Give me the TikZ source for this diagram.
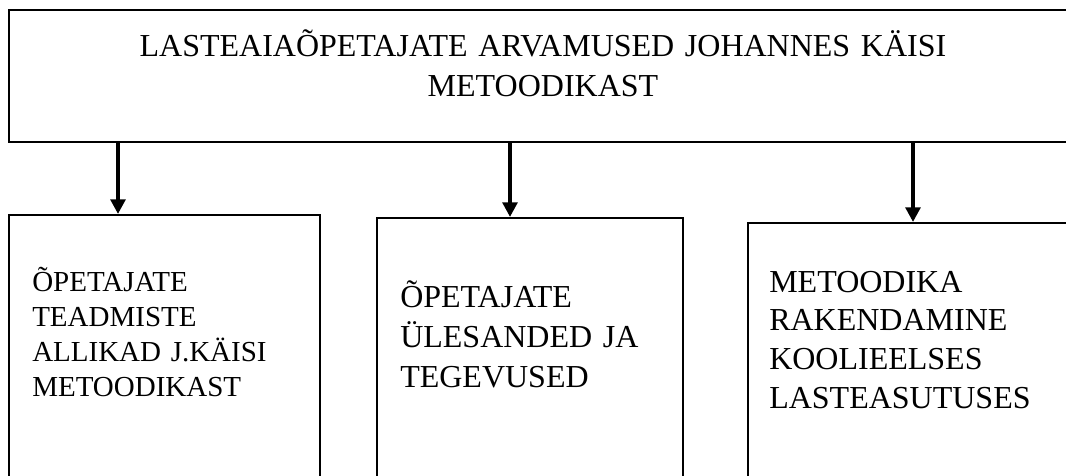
\documentclass[tikz,border=0pt]{standalone}
\usepackage{fontspec}
\setmainfont{Liberation Serif}
\usetikzlibrary{arrows.meta,fit}
\begin{document}
\begin{tikzpicture}[x=0.75pt,y=-0.75pt,
  frame/.style={draw,line width=1.5pt,inner sep=0pt},
  arr/.style={line width=3pt,-{Triangle[width=11pt,length=11pt]}},
  txt/.style={anchor=base west,inner sep=0pt,text width=220pt,align=left}]
\useasboundingbox (0,0) rectangle (1066,475);
\clip (0,0) rectangle (1066,475);
% boxes
\node[frame,fit={(9,10)(1090,142)}] (head) {};
\node[frame,fit={(9,215)(320,500)}] (left) {};
\node[frame,fit={(377,218)(683,500)}] (mid) {};
\node[frame,fit={(748,223)(1090,500)}] (right) {};
% texts
\node[anchor=base,inner sep=0pt,text width=800pt,align=center,font=\fontsize{24}{30}\selectfont] (headtext) at (543,56) {LASTEAIAÕPETAJATE ARVAMUSED JOHANNES KÄISI\\METOODIKAST};
\node[txt,font=\fontsize{21.75}{26.25}\selectfont] (lefttext) at (32,291) {ÕPETAJATE\\TEADMISTE\\ALLIKAD J.KÄISI\\METOODIKAST};
\node[txt,font=\fontsize{24}{30}\selectfont] (midtext) at (400,307) {ÕPETAJATE\\ÜLESANDED JA\\TEGEVUSED};
\node[txt,font=\fontsize{24}{29}\selectfont] (righttext) at (769,292) {METOODIKA\\RAKENDAMINE\\KOOLIEELSES\\LASTEASUTUSES};
% arrows
\draw[arr] (head.south -| 118,0) -- (left.north -| 118,0);
\draw[arr] (head.south -| 510,0) -- (mid.north -| 510,0);
\draw[arr] (head.south -| 913,0) -- (right.north -| 913,0);
\end{tikzpicture}
\end{document}
